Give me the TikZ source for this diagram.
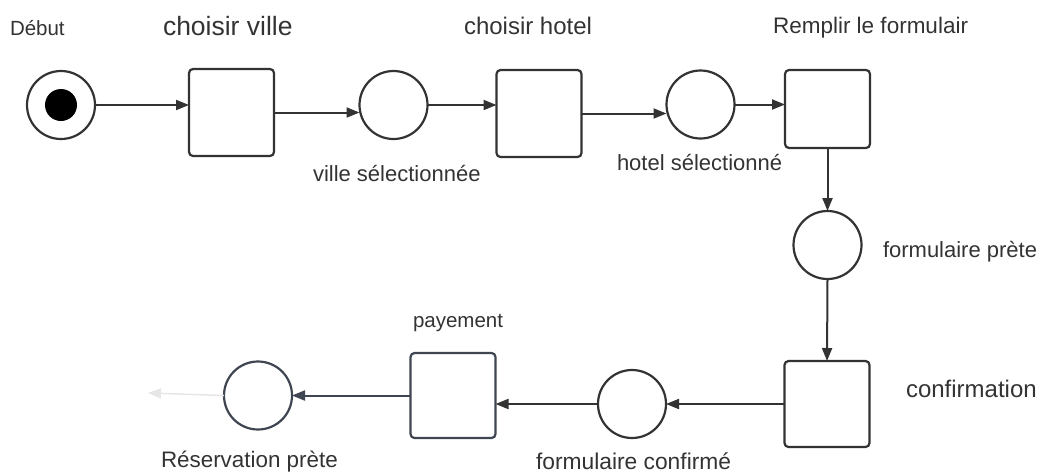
\documentclass[tikz,border=0pt]{standalone}
\usepackage{fontspec}
\setmainfont{Liberation Sans}
\usetikzlibrary{arrows.meta}
\definecolor{ink}{HTML}{333333}
\definecolor{slate}{HTML}{3F4652}
\definecolor{ghost}{HTML}{E6E6E6}
\begin{document}
\begin{tikzpicture}[x=1pt,y=-1pt,
  every node/.style={inner sep=0pt,outer sep=0pt},
  state/.style={draw=ink,line width=2.2pt,fill=white,circle,minimum size=#1},
  state/.default=68,
  activity/.style={draw=ink,line width=2.2pt,fill=white,rounded corners=4pt,
    minimum width=85pt,minimum height=#1},
  activity/.default=87,
  arr/.style={draw=ink,line width=2pt,-{Triangle[length=13pt,width=10pt]}},
  lbl/.style={text=ink,anchor=base west,font=\fontsize{#1}{#1}\selectfont},
  lbl/.default=22]
\useasboundingbox (0,0) rectangle (1043,472);

% states and activities
\node[state=68] (start) at (61,105) {};
\fill[black] (start.center) circle (16pt);
\node[activity=87] (box1) at (231.5,112.5) {};
\node[state] (c2) at (393.5,105) {};
\node[activity=87] (box2) at (539,113.5) {};
\node[state] (c3) at (700.5,104.5) {};
\node[activity=78] (box3) at (827.5,109) {};
\node[state] (c4) at (827.5,245) {};
\node[activity=86] (box4) at (827,404) {};
\node[state] (c5) at (632,404) {};
\node[activity=85,draw=slate] (pay) at (453,395.5) {};
\node[state,draw=slate] (c6) at (258,395.5) {};
\coordinate (tail) at (148,393);

% connectors
\draw[arr] (start.east) -- (start.east -| box1.west);
\draw[arr] (box1.east) -- (box1.east -| c2.west);
\draw[arr] (c2.east) -- (c2.east -| box2.west);
\draw[arr] (box2.east) -- (box2.east -| c3.west);
\draw[arr] (c3.east) -- (c3.east -| box3.west);
\draw[arr] (box3.south) -- (c4.north);
\draw[arr] (c4.south) -- (box4.north);
\draw[arr] (box4.west) -- (c5.east);
\draw[arr] (c5.west) -- (c5.west -| pay.east);
\draw[arr,draw=slate] (pay.west) -- (c6.east);
\draw[arr,draw=ghost,line width=1.5pt] (c6.west) -- (tail);

% labels
\node[lbl=20.5] (tDebut) at (10,35) {Début};
\node[lbl=26.5] (tVille) at (163,35) {choisir ville};
\node[lbl=24] (tHotel) at (464,34) {choisir hotel};
\node[lbl=22.5] (tForm) at (773,33) {Remplir le formulair};
\node[lbl] (tVsel) at (313,181) {ville sélectionnée};
\node[lbl] (tHsel) at (617,170) {hotel sélectionné};
\node[lbl] (tPrete) at (883,257) {formulaire prète};
\node[lbl=20.5] (tPay) at (413,327) {payement};
\node[lbl=24] (tConf) at (906,397) {confirmation};
\node[lbl=22.4] (tRes) at (161,467) {Réservation prète};
\node[lbl=22.8] (tFconf) at (536,469) {formulaire confirmé};
\end{tikzpicture}
\end{document}
